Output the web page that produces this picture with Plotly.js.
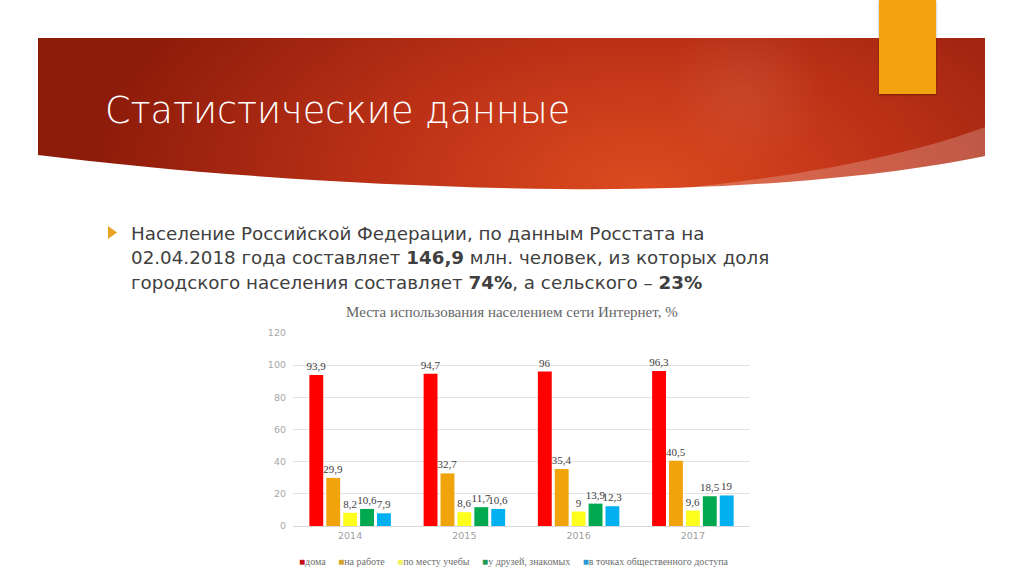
<!DOCTYPE html>
<html>
<head>
<meta charset="utf-8">
<script src="https://cdn.plot.ly/plotly-3.0.1.min.js"></script>
<style>
  html, body { margin:0; padding:0; background:#ffffff; }
  #wrap { position:relative; width:1024px; height:574px; overflow:hidden; }
  #bg { position:absolute; left:0; top:0; }
  #chart { position:absolute; left:0; top:0; width:1024px; height:574px; }
</style>
</head>
<body>
<div id="wrap">
<svg id="bg" width="1024" height="574" viewBox="0 0 1024 574">
  <defs>
    <radialGradient id="rg" cx="640" cy="185" r="560" gradientUnits="userSpaceOnUse" gradientTransform="translate(640 185) scale(1 0.55) translate(-640 -185)">
      <stop offset="0" stop-color="#dc4a1f"/>
      <stop offset="0.45" stop-color="#bd3217"/>
      <stop offset="1" stop-color="#8c1b0a"/>
    </radialGradient>
    <radialGradient id="spot" cx="745" cy="90" r="80" gradientUnits="userSpaceOnUse">
      <stop offset="0" stop-color="#ffffff" stop-opacity="0.07"/>
      <stop offset="1" stop-color="#ffffff" stop-opacity="0"/>
    </radialGradient>
    <filter id="sh" x="-20%" y="-20%" width="140%" height="140%">
      <feDropShadow dx="0" dy="1" stdDeviation="1.2" flood-color="#000" flood-opacity="0.35"/>
    </filter>
  </defs>
  <path d="M38,38 H985 V156 C880,178 720,191 560,189 C380,187 190,174 38,155 Z" fill="url(#rg)"/>
  <path d="M38,38 H985 V156 C880,178 720,191 560,189 C380,187 190,174 38,155 Z" fill="url(#spot)"/>
  <path d="M985,127 C920,152 800,178 670,189 C760,189 880,177 985,156 Z" fill="#ffffff" fill-opacity="0.22"/>
  <rect x="879" y="0" width="57" height="94" fill="#f2a30c" filter="url(#sh)"/>
  <polygon points="108,226 117,232.5 108,239" fill="#e9a323"/>
</svg>
<div id="chart"></div>
</div>
<script>
// ---- data ----
const years = ['2014', '2015', '2016', '2017'];
const seriesNames = ['дома', 'на работе', 'по месту учебы', 'у друзей, знакомых', 'в точках общественного доступа'];
const home = [93.9, 94.7, 96, 96.3];
const work = [29.9, 32.7, 35.4, 40.5];
const study = [8.2, 8.6, 9, 9.6];
const friends = [10.6, 11.7, 13.9, 18.5];
const publicPlaces = [7.9, 10.6, 12.3, 19];
const seriesValues = [home, work, study, friends, publicPlaces];
const seriesColors = ['#ff0000', '#f0a30a', '#ffff1e', '#00a84f', '#00b0f0'];
const legendSwatch = ['#c0141e', '#d4a32a', '#f2f25a', '#1f9a55', '#2a9ad6'];
const yTicks = [0, 20, 40, 60, 80, 100, 120];

const chartTitle = 'Места использования населением сети Интернет, %';
const slideTitle = 'Статистические данные';
const bulletLines = [
  'Население Российской Федерации, по данным Росстата на',
  '02.04.2018 года составляет <b>146,9</b> млн. человек, из которых доля',
  'городского населения составляет <b>74%</b>, а сельского – <b>23%</b>'
];

// ---- geometry helpers (plot area in pixels) ----
const PL = 293, PR = 750, PT = 333, PB = 526;
const px = x => (x - PL) / (PR - PL);
const py = y => (PB - y) / (PB - PT);

const fmt = v => String(v).replace('.', ',');

const traces = seriesValues.map((vals, i) => ({
  type: 'bar',
  name: seriesNames[i],
  x: years,
  y: vals,
  marker: { color: seriesColors[i], line: { width: 0 } },
  text: vals.map(fmt),
  textposition: 'outside',
  constraintext: 'none',
  cliponaxis: false,
  textfont: { family: 'Liberation Serif, serif', size: 11, color: '#404040' },
  outsidetextfont: { family: 'Liberation Serif, serif', size: 11, color: '#404040' },
  hoverinfo: 'none',
  showlegend: false
}));

const legendText = seriesNames.map((n, i) =>
  '<span style="color:' + legendSwatch[i] + '">■</span>' + n
).join('     ');

const annotations = [
  { text: chartTitle, xref: 'paper', yref: 'paper', x: px(512), y: py(312),
    xanchor: 'center', yanchor: 'middle', showarrow: false,
    font: { family: 'Liberation Serif, serif', size: 15, color: '#666666' } },
  { text: legendText, xref: 'paper', yref: 'paper', x: px(514), y: py(561),
    xanchor: 'center', yanchor: 'middle', showarrow: false,
    font: { family: 'Liberation Serif, serif', size: 10, color: '#6e6e6e' } },
  { text: slideTitle, xref: 'paper', yref: 'paper', x: px(103), y: py(111),
    xanchor: 'left', yanchor: 'middle', showarrow: false,
    font: { family: 'DejaVu Sans, sans-serif', size: 36.5, color: '#ffffff', weight: 200 } }
];
const lineY = [233, 257.5, 282];
bulletLines.forEach((t, i) => annotations.push({
  text: t, xref: 'paper', yref: 'paper', x: px(129), y: py(lineY[i]),
  xanchor: 'left', yanchor: 'middle', showarrow: false,
  font: { family: 'DejaVu Sans, sans-serif', size: 18.3, color: '#404040' }
}));

const layout = {
  width: 1024, height: 574,
  margin: { l: PL, r: 1024 - PR, t: PT, b: 574 - PB, pad: 0 },
  paper_bgcolor: 'rgba(0,0,0,0)',
  plot_bgcolor: 'rgba(0,0,0,0)',
  barmode: 'group',
  bargap: 0.26,
  bargroupgap: 0.18,
  showlegend: false,
  xaxis: {
    type: 'category',
    showgrid: false, zeroline: false, showline: false,
    ticks: '',
    tickfont: { family: 'DejaVu Sans, sans-serif', size: 9.5, color: '#a0a0a0' },
    ticklabelstandoff: 2
  },
  yaxis: {
    range: [0, 120],
    tickvals: yTicks,
    ticktext: yTicks.map(String),
    showgrid: true, gridcolor: '#e3e3e3', gridwidth: 1,
    zeroline: true, zerolinecolor: '#d9d9d9', zerolinewidth: 1,
    showline: false, ticks: '',
    tickfont: { family: 'DejaVu Sans, sans-serif', size: 9.5, color: '#a6a6a6' },
    ticklabelstandoff: 6
  },
  annotations: annotations
};

Plotly.newPlot('chart', traces, layout, { staticPlot: true, displayModeBar: false });
</script>
</body>
</html>
